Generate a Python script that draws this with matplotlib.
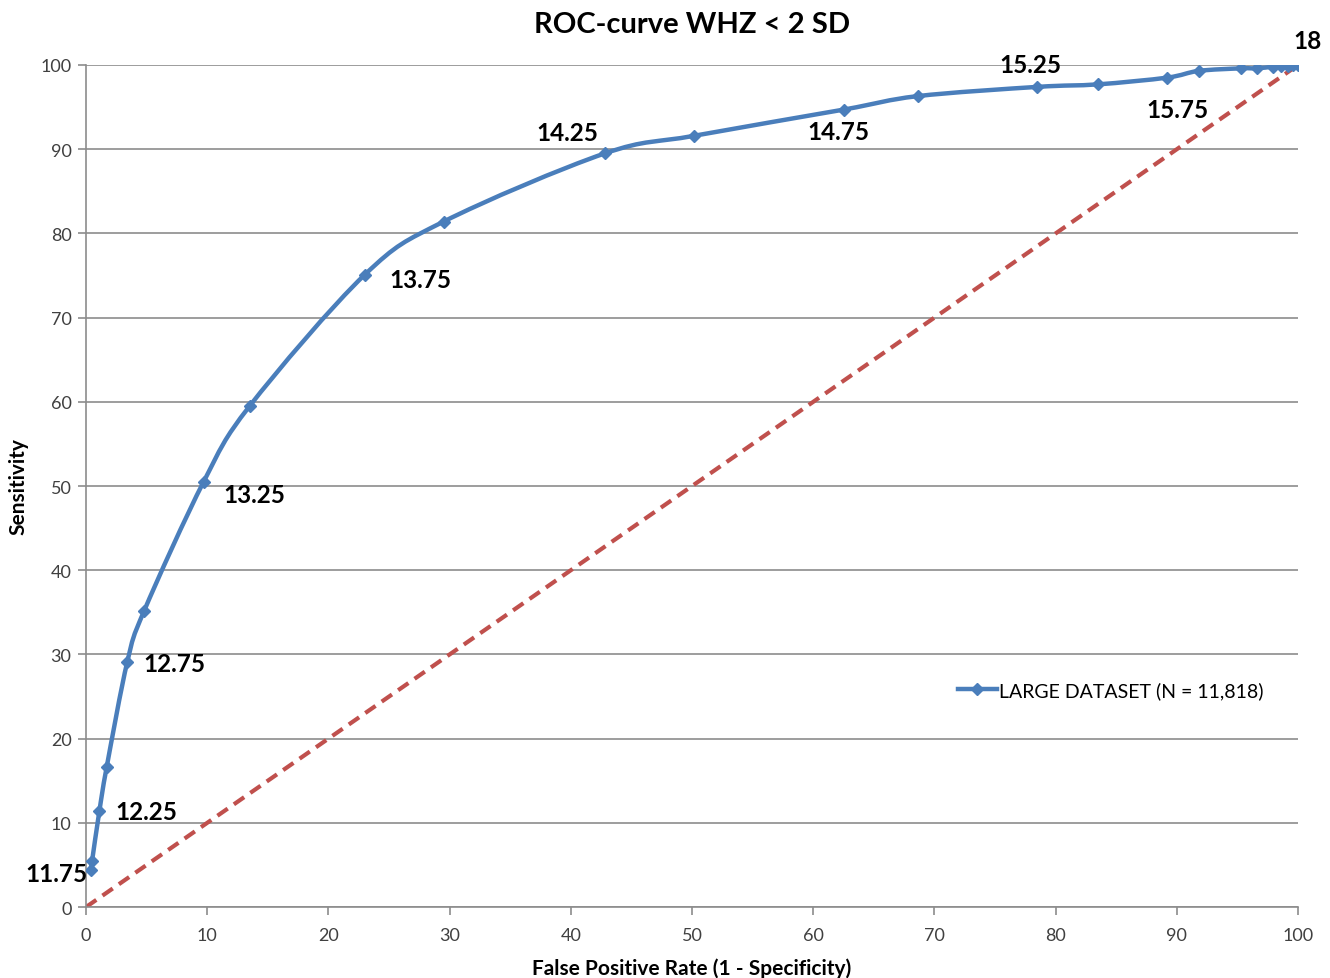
import numpy as np
import matplotlib.pyplot as plt
from matplotlib.path import Path
from matplotlib.patches import PathPatch
from matplotlib.lines import Line2D

# ROC points (FPR %, sensitivity %)
fpr = [0.4, 0.5, 1.1, 1.7, 3.4, 4.8, 9.7, 13.5, 23.0, 29.5, 42.8, 50.2, 62.5, 68.6,
       78.5, 83.5, 89.2, 91.8, 95.3, 96.6, 97.9, 98.6, 99.2, 99.6, 100.0]
sens = [4.4, 5.5, 11.4, 16.6, 29.1, 35.2, 50.5, 59.5, 75.1, 81.4, 89.5, 91.6, 94.7, 96.3,
        97.4, 97.7, 98.5, 99.3, 99.6, 99.6, 99.8, 99.9, 99.9, 100.0, 100.0]

# cut-off labels and index of the point they belong to
label_text = ['11.75', '12.25', '12.75', '13.25', '13.75', '14.25', '14.75', '15.25', '15.75', '18']
label_idx = [0, 2, 4, 6, 8, 10, 12, 14, 16, 24]
# label centre offsets in points
label_off = [(-24.5, -2.2), (33.6, 0), (33.7, -1.4), (36.3, -8.8), (39.7, -3.8),
             (-27.1, 15.4), (-4, -16.1), (-5.3, 15.8), (7.1, -23.3), (6.5, 17.3)]

blue = '#4A7EBB'
red = '#C0504D'
grey = '#8C8C8C'

plt.rcParams['font.family'] = ['Lato', 'DejaVu Sans']

fig = plt.figure(figsize=(13.3, 9.79), dpi=100)
ax = fig.add_axes([0.0647, 0.0725, 0.9113, 0.8601])

# diagonal reference line
ax.plot([0, 100], [0, 100], color=red, lw=3, ls=(0, (3, 1.8)), zorder=2)

# smoothed curve through the points (Catmull-Rom -> cubic Bezier), like Excel's smoothed line
x = np.array(fpr)
y = np.array(sens)
verts = [(x[0], y[0])]
codes = [Path.MOVETO]
t = 1 / 6
for i in range(len(x) - 1):
    p0 = (x[max(i - 1, 0)], y[max(i - 1, 0)])
    p1 = (x[i], y[i])
    p2 = (x[i + 1], y[i + 1])
    p3 = (x[min(i + 2, len(x) - 1)], y[min(i + 2, len(x) - 1)])
    c1 = (p1[0] + (p2[0] - p0[0]) * t, p1[1] + (p2[1] - p0[1]) * t)
    c2 = (p2[0] - (p3[0] - p1[0]) * t, p2[1] - (p3[1] - p1[1]) * t)
    verts += [c1, c2, p2]
    codes += [Path.CURVE4] * 3
ax.add_patch(PathPatch(Path(verts, codes), facecolor='none', edgecolor=blue, lw=3.2, zorder=3,
                       capstyle='round', joinstyle='round'))
ax.plot(fpr, sens, ls='none', marker='D', ms=6.5, color=blue, zorder=4)

for txt, i, off in zip(label_text, label_idx, label_off):
    ax.annotate(txt, xy=(fpr[i], sens[i]), xytext=off, textcoords='offset points',
                ha='center', va='center', fontsize=17.5, fontweight='bold', color='black',
                zorder=5, annotation_clip=False)

ax.set_xlim(0, 100)
ax.set_ylim(0, 100)
ax.set_xticks(np.arange(0, 101, 10))
ax.set_yticks(np.arange(0, 101, 10))
ax.yaxis.grid(True, color=grey, lw=1.2)
ax.set_axisbelow(True)
for s in ['top', 'right']:
    ax.spines[s].set_visible(False)
for s in ['left', 'bottom']:
    ax.spines[s].set_color(grey)
    ax.spines[s].set_linewidth(1.2)
ax.tick_params(axis='both', colors=grey, length=5.5, width=1.2, labelsize=13, labelcolor='#404040')
ax.tick_params(axis='y', pad=5)
ax.tick_params(axis='x', pad=9)

ax.set_title('ROC-curve WHZ < 2 SD', fontsize=21, fontweight='bold', pad=24)
ax.set_xlabel('False Positive Rate (1 - Specificity)', fontsize=15, fontweight='bold', labelpad=10)
ax.set_ylabel('Sensitivity', fontsize=15, fontweight='bold', labelpad=8.5)

handle = Line2D([], [], color=blue, lw=3.2, marker='D', ms=6.5)
ax.legend([handle], ['LARGE DATASET (N = 11,818)'], loc='center left', bbox_to_anchor=(0.705, 0.258),
          frameon=False, fontsize=14, handlelength=2.0, handletextpad=0.1)

fig.savefig('out.png', dpi=100)
